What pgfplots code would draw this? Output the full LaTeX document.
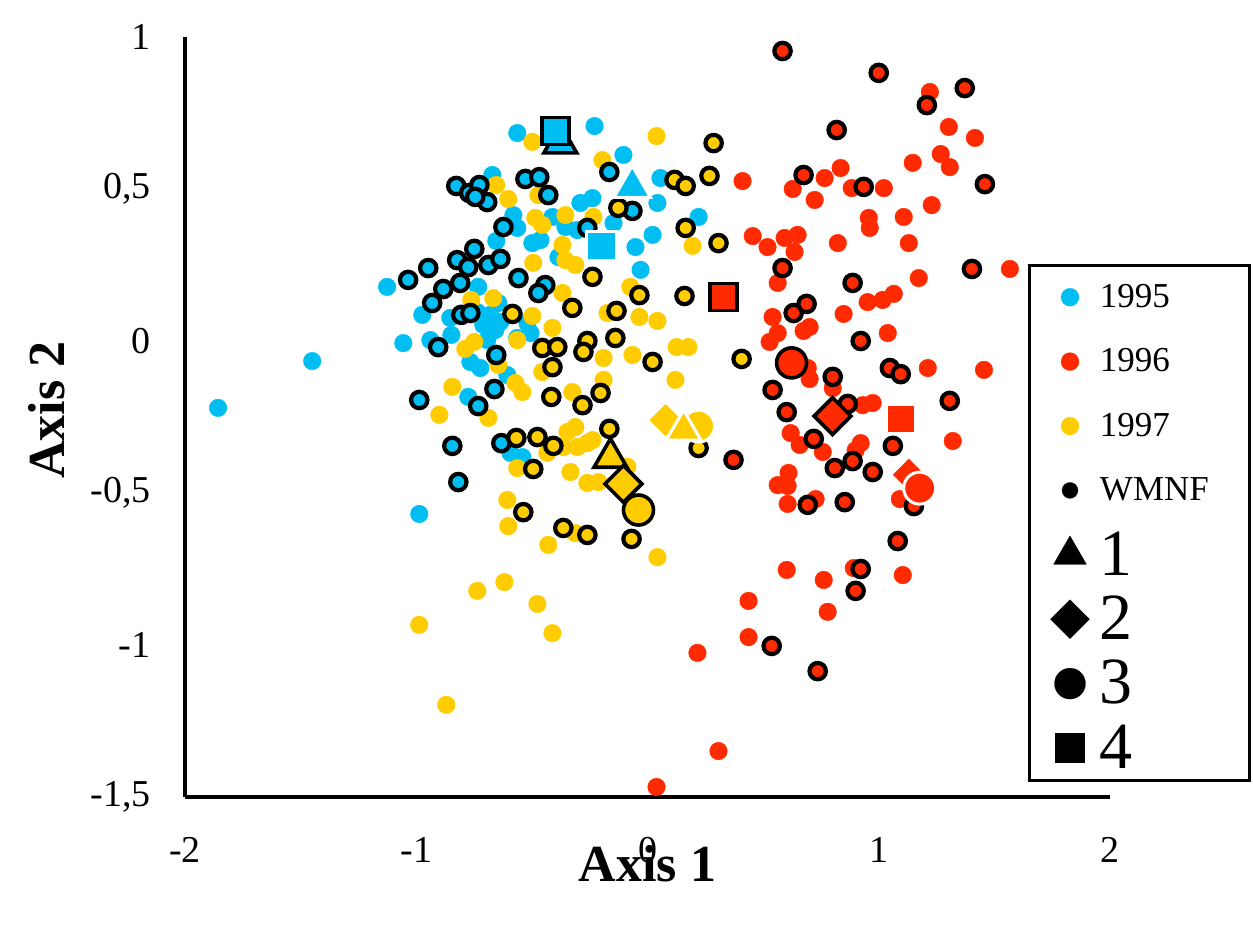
\documentclass[border=0pt]{standalone}
\usepackage{fontspec}
\setmainfont{Liberation Serif}
\usepackage{pgfplots}
\pgfplotsset{compat=1.18}
\definecolor{cy}{HTML}{00BEF2}
\definecolor{rd}{HTML}{FF2A00}
\definecolor{ye}{HTML}{FFCC00}
\pgfplotsset{
  pl/.style={only marks, mark=*, mark size=4.4pt, mark options={draw=#1, fill=#1, line width=0.2pt}, forget plot},
  wm/.style={only marks, mark=*, mark size=4.1pt, mark options={draw=black, fill=#1, line width=2.1pt}, forget plot},
}
\newcommand{\lt}[1]{\makebox[75pt][l]{#1}}
\newcommand{\bg}[1]{\makebox[75pt][l]{\fontsize{33}{36}\selectfont #1}}
\begin{document}
\begin{tikzpicture}
\useasboundingbox (-92.5pt,-70pt) rectangle (534pt,398.5pt);
\begin{axis}[
  at={(0pt,0pt)}, anchor=south west,
  width=462.5pt, height=380pt, scale only axis,
  xmin=-2, xmax=2, ymin=-1.5, ymax=1,
  axis x line*=bottom, axis y line*=left,
  axis line style={line width=2pt, -},
  xtick={-2,-1,0,1,2}, xticklabels={-2,-1,0,1,2},
  ytick={-1.5,-1,-0.5,0,0.5,1}, yticklabels={{-1,5},{-1},{-0,5},{0},{0,5},{1}},
  major tick length=0pt,
  tick label style={font=\fontsize{19}{22}\selectfont},
  xticklabel style={anchor=north, inner sep=0pt, yshift=-20pt},
  yticklabel style={anchor=east, inner sep=0pt, xshift=-17pt},
  xlabel={Axis 1}, ylabel={Axis 2},
  label style={font=\fontsize{26}{30}\selectfont\bfseries},
  xlabel style={at={(axis description cs:0.5,-0.0875)}, anchor=center},
  ylabel style={at={(axis description cs:-0.1492,0.509)}, anchor=center},
  clip=false,
  legend style={at={(0.9135,0.7)}, anchor=north west, draw=black, line width=1.5pt, fill=white,
    inner sep=0pt, outer sep=0pt, row sep=0pt, column sep=0pt, cells={anchor=west},
    nodes={draw=none, fill=none, inner sep=0pt, font=\fontsize{17.5}{20}\selectfont}},
  /tikz/every even column/.append style={column sep=0pt},
  legend image code/.code={\path[draw=none, fill=none] (-20pt,-16.1pt) rectangle (15pt,16.1pt); \draw[#1] plot coordinates {(0pt,0pt)};},
]
% ---- plain points
\addplot[pl=cy] table {
-1.126 0.178
-0.974 0.086
-1.056 -0.007
-0.939 0.003
-0.671 0.546
-0.580 0.414
-0.654 0.329
-0.732 0.178
-0.645 0.125
-0.736 0.095
-0.680 0.086
-0.710 0.053
-0.658 0.036
-0.636 0.063
-0.693 0.003
-0.848 0.020
-0.519 0.059
-0.563 0.684
-0.229 0.707
-0.104 0.612
0.056 0.536
0.043 0.454
-0.290 0.454
-0.238 0.470
-0.411 0.408
-0.563 0.372
-0.355 0.375
-0.303 0.365
-0.147 0.388
-0.052 0.309
0.022 0.349
-0.498 0.322
-0.463 0.332
-0.385 0.276
-0.030 0.234
-1.857 -0.220
-1.450 -0.066
-0.987 -0.569
-0.853 0.076
-0.723 -0.089
-0.766 -0.069
-0.606 -0.112
-0.563 0.010
-0.506 0.026
-0.775 -0.184
-0.593 -0.368
-0.541 -0.382
0.221 0.408
};
\addplot[pl=ye] table {
-0.654 0.513
-0.602 0.467
-0.762 0.135
-0.667 0.141
-0.749 -0.003
-0.563 0.003
-0.498 0.655
0.039 0.674
-0.195 0.595
-0.472 0.480
-0.485 0.405
-0.455 0.382
-0.355 0.414
-0.234 0.408
-0.368 0.316
-0.355 0.266
-0.312 0.250
-0.494 0.257
-0.074 0.178
-0.368 0.158
-0.498 0.082
-0.035 0.079
0.043 0.066
-0.173 0.092
-0.788 -0.026
-0.645 -0.079
-0.411 0.043
-0.190 -0.056
-0.065 -0.046
0.126 -0.020
0.177 -0.020
-0.455 -0.102
-0.844 -0.151
-0.571 -0.138
-0.541 -0.168
-0.325 -0.168
-0.190 -0.128
0.121 -0.128
-0.900 -0.243
-0.688 -0.253
-0.312 -0.283
-0.346 -0.299
-0.260 -0.336
-0.303 -0.349
-0.364 -0.349
-0.238 -0.326
-0.433 -0.368
-0.563 -0.418
-0.333 -0.431
-0.260 -0.467
-0.212 -0.464
-0.087 -0.414
-0.606 -0.523
-0.602 -0.609
-0.312 -0.632
-0.429 -0.671
0.043 -0.711
-0.619 -0.793
-0.736 -0.822
-0.476 -0.865
-0.987 -0.934
-0.411 -0.961
-0.870 -1.197
0.195 0.313
};
\addplot[pl=rd] table {
0.411 0.526
0.628 0.500
0.766 0.536
0.723 0.464
0.835 0.569
0.455 0.345
0.519 0.309
0.593 0.339
0.649 0.349
0.636 0.293
0.823 0.322
0.563 0.191
0.541 0.079
0.563 0.026
0.528 -0.003
0.675 0.033
0.701 0.046
0.848 0.089
0.693 -0.089
0.701 -0.125
0.801 -0.155
0.619 -0.303
0.658 -0.342
0.758 -0.365
0.922 -0.336
0.900 -0.359
0.563 -0.474
0.610 -0.434
0.606 -0.477
0.606 -0.536
0.727 -0.520
0.602 -0.753
0.762 -0.786
0.437 -0.855
1.221 0.819
1.303 0.704
1.416 0.668
1.268 0.615
1.307 0.572
1.147 0.586
0.883 0.503
1.022 0.503
1.229 0.447
1.108 0.408
0.957 0.405
0.961 0.372
1.130 0.322
1.567 0.237
1.173 0.207
0.952 0.128
1.017 0.135
1.065 0.155
1.039 0.026
1.212 -0.089
1.455 -0.095
0.931 -0.211
0.974 -0.204
1.320 -0.329
1.091 -0.520
0.892 -0.747
1.104 -0.770
0.779 -0.891
0.437 -0.974
0.216 -1.026
0.307 -1.349
0.039 -1.467
};
% ---- WMNF points
\addplot[wm=cy] table {
-1.035 0.201
-0.948 0.240
-0.931 0.125
-0.528 0.533
-0.827 0.510
-0.771 0.487
-0.727 0.513
-0.693 0.457
-0.745 0.474
-0.623 0.375
-0.749 0.303
-0.823 0.266
-0.775 0.243
-0.688 0.250
-0.636 0.270
-0.558 0.207
-0.810 0.191
-0.883 0.171
-0.805 0.086
-0.766 0.092
-0.905 -0.020
-0.468 0.539
-0.429 0.480
-0.165 0.556
-0.065 0.428
-0.260 0.372
-0.442 0.184
-0.472 0.158
-0.654 -0.046
-0.662 -0.158
-0.987 -0.194
-0.732 -0.214
-0.632 -0.336
-0.844 -0.345
-0.818 -0.464
};
\addplot[wm=ye] table {
-0.584 0.089
0.117 0.530
-0.126 0.438
-0.238 0.211
-0.035 0.151
0.160 0.148
-0.325 0.109
-0.134 0.099
-0.455 -0.023
-0.390 -0.020
-0.260 0.000
-0.277 -0.036
-0.139 0.010
0.022 -0.069
-0.411 -0.086
-0.416 -0.184
-0.203 -0.171
-0.281 -0.211
-0.165 -0.289
-0.567 -0.319
-0.476 -0.316
-0.407 -0.345
-0.494 -0.421
-0.537 -0.563
-0.364 -0.615
-0.260 -0.638
-0.069 -0.651
0.286 0.651
0.165 0.510
0.268 0.543
0.165 0.372
0.307 0.322
0.407 -0.059
0.221 -0.352
};
\addplot[wm=rd] table {
0.584 0.954
1.000 0.882
1.208 0.776
1.372 0.832
0.818 0.694
0.675 0.546
0.935 0.507
1.459 0.516
0.584 0.240
1.403 0.237
0.887 0.191
0.632 0.092
0.688 0.122
0.922 0.000
0.801 -0.118
0.541 -0.161
0.602 -0.234
0.866 -0.207
0.719 -0.322
0.810 -0.418
0.887 -0.395
0.372 -0.391
0.693 -0.539
0.853 -0.530
0.922 -0.750
0.900 -0.822
1.048 -0.089
1.095 -0.109
1.307 -0.197
1.061 -0.345
0.974 -0.431
1.152 -0.543
1.082 -0.658
0.537 -1.003
0.736 -1.086
};
% ---- centroids, black outline
\addplot[only marks, mark=triangle*, mark size=9.5pt, mark options={draw=black, fill=cy, line width=1.8pt}, forget plot] coordinates {(-0.377,0.650)};
\addplot[only marks, mark=triangle*, mark size=9.5pt, mark options={draw=black, fill=ye, line width=1.8pt}, forget plot] coordinates {(-0.160,-0.384)};
\addplot[only marks, mark=square*, mark size=6.5pt, mark options={rotate=45, draw=black, fill=ye, line width=1.8pt}, forget plot] coordinates {(-0.104,-0.470)};
\addplot[only marks, mark=square*, mark size=6.5pt, mark options={rotate=45, draw=black, fill=rd, line width=1.8pt}, forget plot] coordinates {(0.800,-0.247)};
\addplot[only marks, mark=*, mark size=7.5pt, mark options={draw=black, fill=ye, line width=1.8pt}, forget plot] coordinates {(-0.039,-0.556)};
\addplot[only marks, mark=*, mark size=7.5pt, mark options={draw=black, fill=rd, line width=1.8pt}, forget plot] coordinates {(0.623,-0.072)};
\addplot[only marks, mark=square*, mark size=6.8pt, mark options={draw=black, fill=cy, line width=1.8pt}, forget plot] coordinates {(-0.398,0.691)};
\addplot[only marks, mark=square*, mark size=6.8pt, mark options={draw=black, fill=rd, line width=1.8pt}, forget plot] coordinates {(0.329,0.145)};
% ---- centroids, white outline
\addplot[only marks, mark=square*, mark size=6.5pt, mark options={rotate=45, draw=white, fill=ye, line width=1.5pt}, forget plot] coordinates {(0.078,-0.260)};
\addplot[only marks, mark=square*, mark size=6.5pt, mark options={rotate=45, draw=white, fill=rd, line width=1.5pt}, forget plot] coordinates {(1.130,-0.440)};
\addplot[only marks, mark=*, mark size=8pt, mark options={draw=white, fill=ye, line width=1.5pt}, forget plot] coordinates {(0.221,-0.280)};
\addplot[only marks, mark=*, mark size=8pt, mark options={draw=white, fill=rd, line width=1.5pt}, forget plot] coordinates {(1.177,-0.484)};
\addplot[only marks, mark=triangle*, mark size=10.5pt, mark options={draw=white, fill=cy, line width=1.5pt}, forget plot] coordinates {(-0.066,0.507)};
\addplot[only marks, mark=triangle*, mark size=10pt, mark options={draw=white, fill=ye, line width=1.5pt}, forget plot] coordinates {(0.156,-0.293)};
\addplot[only marks, mark=square*, mark size=7.3pt, mark options={draw=white, fill=cy, line width=1.5pt}, forget plot] coordinates {(-0.199,0.312)};
\addplot[only marks, mark=square*, mark size=7.3pt, mark options={draw=white, fill=rd, line width=1.5pt}, forget plot] coordinates {(1.095,-0.257)};
% ---- legend
\addlegendimage{only marks, mark=*, mark size=4.5pt, mark options={draw=cy, fill=cy, line width=0.1pt}}
\addlegendentry{\lt{1995}}
\addlegendimage{only marks, mark=*, mark size=4.5pt, mark options={draw=rd, fill=rd, line width=0.1pt}}
\addlegendentry{\lt{1996}}
\addlegendimage{only marks, mark=*, mark size=4.5pt, mark options={draw=ye, fill=ye, line width=0.1pt}}
\addlegendentry{\lt{1997}}
\addlegendimage{only marks, mark=*, mark size=4pt, mark options={draw=black, fill=black, line width=0.1pt}}
\addlegendentry{\lt{WMNF}}
\addlegendimage{only marks, mark=triangle*, mark size=9.5pt, mark options={draw=black, fill=black, line width=0.1pt}}
\addlegendentry{\bg{1}}
\addlegendimage{only marks, mark=square*, mark size=6.9pt, mark options={rotate=45, draw=black, fill=black, line width=0.1pt}}
\addlegendentry{\bg{2}}
\addlegendimage{only marks, mark=*, mark size=7.75pt, mark options={draw=black, fill=black, line width=0.1pt}}
\addlegendentry{\bg{3}}
\addlegendimage{only marks, mark=square*, mark size=7.25pt, mark options={draw=black, fill=black, line width=0.1pt}}
\addlegendentry{\bg{4}}
\end{axis}
\end{tikzpicture}
\end{document}
